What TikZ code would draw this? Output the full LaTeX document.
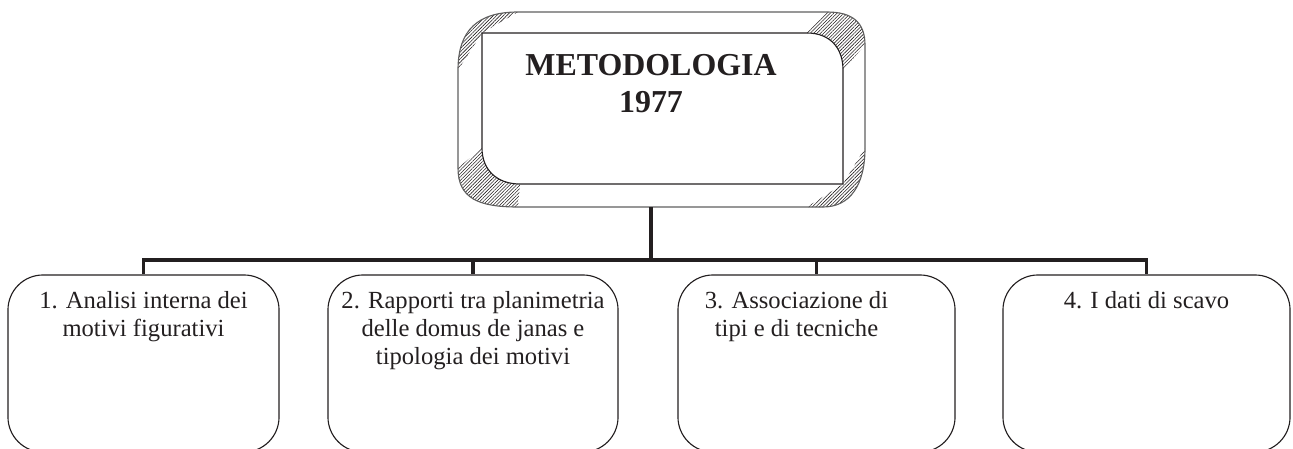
\documentclass[tikz,border=0pt]{standalone}
\usepackage{fontspec}
\setmainfont{Liberation Serif}
\usepackage{tikz}
\usetikzlibrary{positioning,patterns.meta}
\definecolor{inkgrey}{RGB}{35,31,32}
\definecolor{rimgrey}{RGB}{95,95,95}

\begin{document}
\begin{tikzpicture}[x=0.025cm, y=-0.025cm,
    subbox/.style={rectangle, draw=inkgrey, line width=0.8pt,
        rounded corners=0.875cm, minimum height=4.425cm, inner sep=0pt},
    subtext/.style={font=\fontsize{17.5}{19.7}\selectfont, text=inkgrey,
        align=center, inner sep=0pt},
    headtext/.style={font=\bfseries\fontsize{22.7}{26.3}\selectfont,
        text=inkgrey, align=center, inner sep=0pt},
    conn/.style={line width=2.8pt, inkgrey, line join=miter},
    hatch/.style={pattern={Lines[angle=45,distance=1.7pt,line width=0.4pt]},
        pattern color=inkgrey},
    rim/.style={draw=rimgrey, line width=0.8pt}
]
    \useasboundingbox (0,0) rectangle (1293,448);

    % bevelled frame of the title
    \fill[hatch] (458,70) .. controls (458,30) and (478,12) .. (518,12) -- (482,33) -- cycle;
    \fill[hatch] (807,33) -- (827,12) .. controls (852,12) and (865,22) .. (865,45)
        -- (843,70) .. controls (843,48) and (830,33) .. (807,33) -- cycle;
    \fill[hatch] (865,148) .. controls (865,185) and (850,207) .. (823,207)
        -- (807,207) -- (843,184) -- cycle;
    \fill[hatch] (458,168) -- (482,148) .. controls (482,170) and (497,184) .. (520,184)
        -- (518,207) .. controls (478,207) and (458,198) .. (458,168) -- cycle;
    \draw[rim] (518,12) -- (827,12) .. controls (852,12) and (865,22) .. (865,45)
        -- (865,148) .. controls (865,185) and (850,207) .. (823,207)
        -- (518,207) .. controls (478,207) and (458,198) .. (458,168)
        -- (458,70) .. controls (458,30) and (478,12) .. (518,12) -- cycle;
    \draw[rim, draw=inkgrey] (482,33) -- (807,33) .. controls (830,33) and (843,48) .. (843,70)
        -- (843,184) -- (520,184) .. controls (497,184) and (482,170) .. (482,148) -- cycle;
    \node[headtext, anchor=north] (title) at (651,54) {METODOLOGIA\\1977};

    \node[subbox, minimum width=6.775cm] (b1) at (143.5,363.5) {};
    \node[subbox, minimum width=7.25cm] (b2) at (473,363.5) {};
    \node[subbox, minimum width=6.925cm] (b3) at (816.5,363.5) {};
    \node[subbox, minimum width=7.175cm] (b4) at (1146.5,363.5) {};

    \node[subtext, below=0.425cm] (t1) at (b1.north) {1. Analisi interna dei\\motivi figurativi};
    \node[subtext, below=0.425cm] (t2) at (b2.north) {2. Rapporti tra planimetria\\delle domus de janas e\\tipologia dei motivi};
    \node[subtext, below=0.425cm, xshift=-0.5cm] (t3) at (b3.north) {3. Associazione di\\tipi e di tecniche};
    \node[subtext, below=0.425cm] (t4) at (b4.north) {4. I dati di scavo};

    \coordinate (foot) at (651,207);
    \coordinate (bar) at (651,260);
    \draw[conn] (foot) -- (bar);
    \draw[conn] (bar) -| (b1.north);
    \draw[conn] (bar) -| (b2.north);
    \draw[conn] (bar) -| (b3.north);
    \draw[conn] (bar) -| (b4.north);
\end{tikzpicture}
\end{document}
